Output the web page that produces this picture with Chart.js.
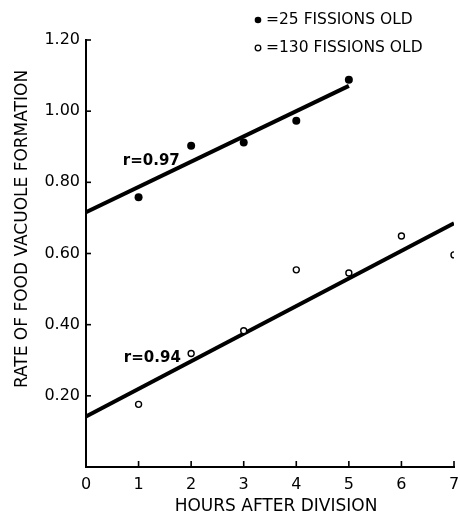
<!DOCTYPE html>
<html><head><meta charset="utf-8">
<script src="https://cdn.jsdelivr.net/npm/chart.js@4"></script>
<style>html,body{margin:0;padding:0;background:#fff}#w{width:460px;height:517px}</style>
</head><body><div id="w"><canvas id="c" width="460" height="517"></canvas></div>
<script>
const hours = [1, 2, 3, 4, 5, 6, 7];
const young = [0.758, 0.903, 0.912, 0.973, 1.088];
const old = [0.176, 0.319, 0.383, 0.554, 0.545, 0.649, 0.596];
const youngFitX = [0, 5];
const youngFitY = [0.716, 1.071];
const oldFitX = [0, 7];
const oldFitY = [0.142, 0.685];
const xTicks = [0, 1, 2, 3, 4, 5, 6, 7];
const yTicks = [0.2, 0.4, 0.6, 0.8, 1.0, 1.2];
const youngLabel = '=25 FISSIONS OLD';
const oldLabel = '=130 FISSIONS OLD';
const youngR = 'r=0.97';
const oldR = 'r=0.94';
const xTitle = 'HOURS AFTER DIVISION';
const yTitle = 'RATE OF FOOD VACUOLE FORMATION';

const FONT = '"DejaVu Sans", sans-serif';
const pts = (xs, ys) => ys.map((v, i) => ({x: xs[i], y: v}));

const extras = {
  id: 'extras',
  afterDraw(chart) {
    const {ctx, scales: {x, y}} = chart;
    ctx.save();
    ctx.strokeStyle = '#000'; ctx.lineWidth = 1.6;
    // inward ticks
    xTicks.forEach(v => { if (v === 0) return; const px = x.getPixelForValue(v);
      ctx.beginPath(); ctx.moveTo(px, y.bottom); ctx.lineTo(px, y.bottom - 6); ctx.stroke(); });
    yTicks.forEach(v => { const py = y.getPixelForValue(v);
      ctx.beginPath(); ctx.moveTo(x.left, py); ctx.lineTo(x.left + 5, py); ctx.stroke(); });
    ctx.fillStyle = '#000';
    ctx.textBaseline = 'middle';
    // r annotations
    ctx.font = 'bold 15px ' + FONT; ctx.textAlign = 'left';
    ctx.fillText(youngR, x.getPixelForValue(0.7), y.getPixelForValue(0.86));
    ctx.fillText(oldR, x.getPixelForValue(0.72), y.getPixelForValue(0.305));
    // legend
    ctx.font = '15.5px ' + FONT;
    ctx.fillText(youngLabel, 266, 20);
    ctx.fillText(oldLabel, 266, 48);
    ctx.beginPath(); ctx.arc(258, 20, 3.3, 0, Math.PI * 2); ctx.fill();
    ctx.lineWidth = 1.3;
    ctx.beginPath(); ctx.arc(258, 48, 2.8, 0, Math.PI * 2); ctx.stroke();
    // axis titles
    ctx.font = '17px ' + FONT; ctx.textAlign = 'center';
    ctx.fillText(xTitle, 276, 507);
    ctx.font = '17px ' + FONT;
    ctx.translate(23, 229); ctx.rotate(-Math.PI / 2);
    ctx.fillText(yTitle, 0, 0);
    ctx.restore();
  }
};

new Chart(document.getElementById('c'), {
  type: 'scatter',
  data: {
    datasets: [
      {label: youngLabel, data: pts(hours, young), pointRadius: 4, pointBackgroundColor: '#000', pointBorderColor: '#000', pointBorderWidth: 0, showLine: false},
      {label: oldLabel, data: pts(hours, old), pointRadius: 3, pointBackgroundColor: '#fff', pointBorderColor: '#000', pointBorderWidth: 1.4, showLine: false},
      {data: pts(youngFitX, youngFitY), showLine: true, borderColor: '#000', borderWidth: 4, pointRadius: 0},
      {data: pts(oldFitX, oldFitY), showLine: true, borderColor: '#000', borderWidth: 4, pointRadius: 0}
    ]
  },
  options: {
    responsive: false, animation: false, devicePixelRatio: 1,
    layout: {padding: {top: 40, right: 6, left: 0, bottom: 0}},
    plugins: {legend: {display: false}, tooltip: {enabled: false}},
    scales: {
      x: {type: 'linear', min: 0, max: 7,
        afterFit(s) { s.height = 50; s.paddingLeft = 0; s.paddingRight = 0; },
        afterBuildTicks(s) { s.ticks = xTicks.map(v => ({value: v})); },
        grid: {display: false, drawTicks: false},
        border: {display: true, color: '#000', width: 2},
        ticks: {color: '#000', padding: 8, font: {family: FONT, size: 16}, maxRotation: 0, callback: v => String(v)}
      },
      y: {type: 'linear', min: 0, max: 1.2,
        afterFit(s) { s.width = 86; s.paddingTop = 0; s.paddingBottom = 0; },
        afterBuildTicks(s) { s.ticks = yTicks.map(v => ({value: v})); },
        grid: {display: false, drawTicks: false},
        border: {display: true, color: '#000', width: 2},
        ticks: {color: '#000', padding: 6, font: {family: FONT, size: 16}, callback: v => Number(v).toFixed(2)}
      }
    }
  },
  plugins: [extras]
});
</script></body></html>
